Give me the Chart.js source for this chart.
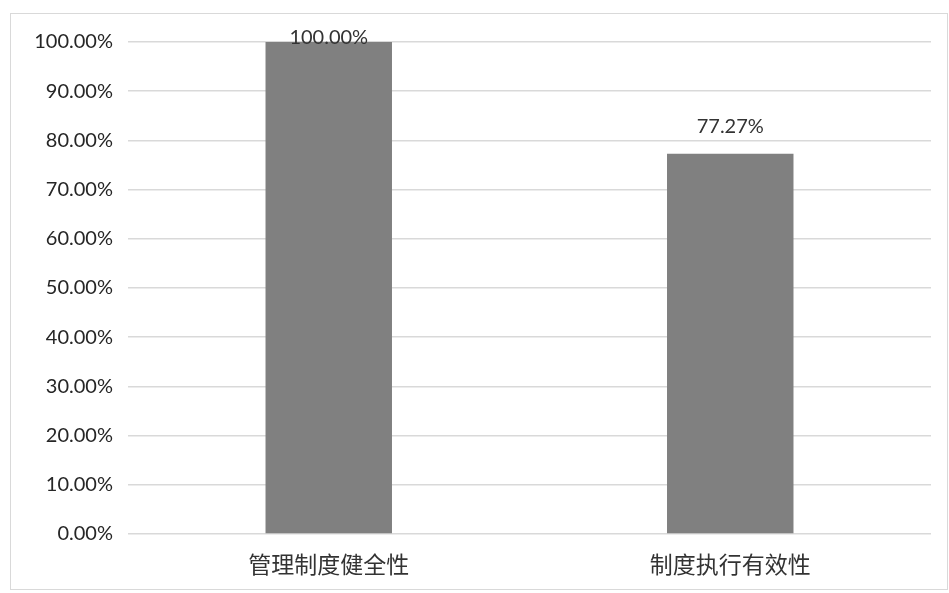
<!DOCTYPE html>
<html>
<head>
<meta charset="utf-8">
<script src="https://cdn.jsdelivr.net/npm/chart.js@4/dist/chart.umd.min.js"></script>
<style>
  html, body { margin: 0; padding: 0; background: #fff; }
  #wrap {
    position: absolute; left: 10px; top: 13px;
    width: 938px; height: 577px;
    border: 1px solid #d9d9d9; box-sizing: border-box;
  }
</style>
</head>
<body>
<div id="wrap"><canvas id="chart"></canvas></div>
<script>
const categories = ['管理制度健全性', '制度执行有效性'];
const rates = [100.00, 77.27];
const yTicks = [0, 10, 20, 30, 40, 50, 60, 70, 80, 90, 100];

// value labels over the bars, kept inside the frame like Excel does
const barLabels = {
    id: 'barLabels',
    afterDatasetsDraw(chart) {
        const ctx = chart.ctx;
        const meta = chart.getDatasetMeta(0);
        ctx.save();
        ctx.font = '20px Lato, "Open Sans", sans-serif';
        ctx.fillStyle = '#333';
        ctx.textAlign = 'center';
        ctx.textBaseline = 'middle';
        meta.data.forEach((bar, i) => {
            const y = Math.max(bar.y - 27, 24);
            ctx.fillText(rates[i].toFixed(2) + '%', bar.x, y);
        });
        ctx.restore();
    }
};

const ctx = document.getElementById('chart').getContext('2d');
new Chart(ctx, {
    type: 'bar',
    data: {
        labels: categories,
        datasets: [{
            data: rates,
            backgroundColor: '#808080',
            borderWidth: 0,
            barPercentage: 0.63,
            categoryPercentage: 0.5
        }]
    },
    options: {
        responsive: true,
        maintainAspectRatio: false,
        animation: false,
        layout: { padding: { top: 28, right: 16, bottom: 0, left: 0 } },
        plugins: {
            legend: { display: false },
            tooltip: { enabled: false }
        },
        scales: {
            x: {
                grid: { display: false },
                border: { display: false },
                ticks: {
                    color: '#333',
                    font: { size: 23, family: '"Noto Sans CJK SC", sans-serif' },
                    padding: 8
                },
                afterFit(scale) { scale.height = 55; }
            },
            y: {
                min: 0,
                max: 100,
                afterBuildTicks(scale) { scale.ticks = yTicks.map(v => ({ value: v })); },
                grid: { color: '#d9d9d9', lineWidth: 1.5, drawTicks: false },
                border: { display: false },
                ticks: {
                    color: '#262626',
                    font: { size: 20, family: 'Lato, "Open Sans", sans-serif' },
                    padding: 15,
                    callback: v => v.toFixed(2) + '%'
                },
                afterFit(scale) { scale.width = 117; }
            }
        }
    },
    plugins: [barLabels]
});
</script>
</body>
</html>
